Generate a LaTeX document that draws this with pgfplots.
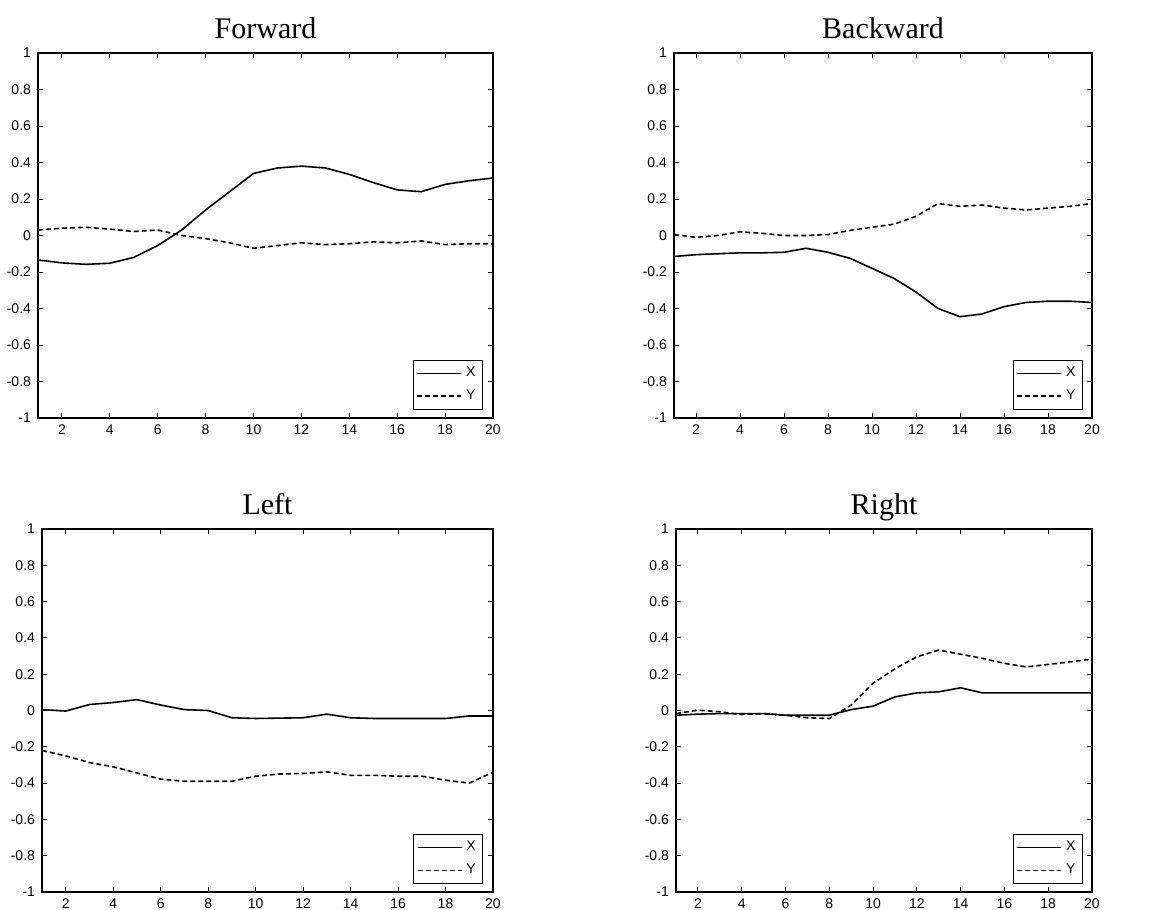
\documentclass[border=0pt]{standalone}
\usepackage{fontspec}
\setmainfont{Liberation Serif}
\newfontfamily\ticksf{Liberation Sans}
\usepackage{pgfplots}
\pgfplotsset{compat=1.18}

\pgfplotsset{
  panel/.style={
    scale only axis, xmin=1, xmax=20, ymin=-1, ymax=1,
    axis line style={black, line width=0.6pt},
    tick align=inside, major tick length=2.5pt,
    tick style={black, line width=0.5pt},
    xtick={2,4,6,8,10,12,14,16,18,20},
    xticklabels={2,4,6,8,10,12,14,16,18,20},
    ytick={-1,-0.8,-0.6,-0.4,-0.2,0,0.2,0.4,0.6,0.8,1},
    yticklabels={-1,-0.8,-0.6,-0.4,-0.2,0,0.2,0.4,0.6,0.8,1},
    /pgf/number format/assume math mode=true,
    tick label style={font=\ticksf\fontsize{7}{8}\selectfont},
    every axis title shift=0pt,
    title style={font=\fontsize{15}{18}\selectfont, at={(0.5,1)}, anchor=base, yshift=7.5pt},
    legend style={at={(rel axis cs:0.978,0.022)}, anchor=south east,
      draw=black, font=\ticksf\fontsize{7}{8}\selectfont,
      inner sep=1.5pt, row sep=1pt},
    legend image code/.code={\draw[#1, line width=0.8pt] (0pt,0pt) -- (22pt,0pt);},
  },
  xline/.style={black, line width=0.8pt},
  yline/.style={black, line width=0.8pt, dash pattern=on 2.5pt off 1.5pt},
}

\begin{document}
\begin{tikzpicture}
\path[use as bounding box] (0,0) rectangle (582pt,-455pt);

% Forward
\begin{axis}[panel, at={(19pt,-209pt)}, anchor=south west,
  width=227.5pt, height=182.5pt, title={Forward}]
\addplot[xline] coordinates {
  (1,-0.134)(2,-0.150)(3,-0.158)(4,-0.152)(5,-0.120)(6,-0.055)(7,0.030)
  (8,0.140)(9,0.240)(10,0.340)(11,0.370)(12,0.380)(13,0.370)(14,0.335)
  (15,0.290)(16,0.250)(17,0.240)(18,0.280)(19,0.300)(20,0.315)};
\addplot[yline] coordinates {
  (1,0.030)(2,0.040)(3,0.045)(4,0.035)(5,0.022)(6,0.030)(7,0.000)
  (8,-0.017)(9,-0.040)(10,-0.070)(11,-0.055)(12,-0.040)(13,-0.050)(14,-0.045)
  (15,-0.035)(16,-0.040)(17,-0.030)(18,-0.050)(19,-0.045)(20,-0.045)};
\legend{X,Y}
\end{axis}

% Backward
\begin{axis}[panel, at={(337pt,-209pt)}, anchor=south west,
  width=209pt, height=182.5pt, title={Backward}]
\addplot[xline] coordinates {
  (1,-0.115)(2,-0.105)(3,-0.100)(4,-0.095)(5,-0.095)(6,-0.092)(7,-0.070)
  (8,-0.092)(9,-0.125)(10,-0.180)(11,-0.235)(12,-0.310)(13,-0.400)(14,-0.445)
  (15,-0.430)(16,-0.390)(17,-0.367)(18,-0.360)(19,-0.360)(20,-0.367)};
\addplot[yline] coordinates {
  (1,0.005)(2,-0.010)(3,0.000)(4,0.020)(5,0.012)(6,0.000)(7,0.000)
  (8,0.005)(9,0.028)(10,0.045)(11,0.062)(12,0.105)(13,0.175)(14,0.160)
  (15,0.167)(16,0.150)(17,0.140)(18,0.150)(19,0.160)(20,0.175)};
\legend{X,Y}
\end{axis}

% Left
\begin{axis}[panel, at={(21pt,-446pt)}, anchor=south west,
  width=225.5pt, height=181.5pt, title={Left}]
\addplot[xline] coordinates {
  (1,0.005)(2,-0.003)(3,0.033)(4,0.044)(5,0.060)(6,0.030)(7,0.005)
  (8,0.000)(9,-0.040)(10,-0.044)(11,-0.042)(12,-0.040)(13,-0.020)(14,-0.040)
  (15,-0.044)(16,-0.044)(17,-0.044)(18,-0.044)(19,-0.030)(20,-0.030)};
\addplot[yline] coordinates {
  (1,-0.220)(2,-0.250)(3,-0.287)(4,-0.310)(5,-0.344)(6,-0.378)(7,-0.390)
  (8,-0.390)(9,-0.390)(10,-0.362)(11,-0.350)(12,-0.347)(13,-0.338)(14,-0.357)
  (15,-0.357)(16,-0.362)(17,-0.362)(18,-0.384)(19,-0.400)(20,-0.340)};
\legend{X,Y}
\end{axis}

% Right
\begin{axis}[panel, at={(338pt,-446pt)}, anchor=south west,
  width=208pt, height=181.5pt, title={Right}]
\addplot[xline] coordinates {
  (1,-0.026)(2,-0.020)(3,-0.017)(4,-0.017)(5,-0.017)(6,-0.026)(7,-0.026)
  (8,-0.026)(9,0.005)(10,0.024)(11,0.075)(12,0.097)(13,0.103)(14,0.125)
  (15,0.097)(16,0.097)(17,0.097)(18,0.097)(19,0.097)(20,0.097)};
\addplot[yline] coordinates {
  (1,-0.017)(2,0.002)(3,-0.007)(4,-0.022)(5,-0.017)(6,-0.026)(7,-0.040)
  (8,-0.044)(9,0.030)(10,0.150)(11,0.230)(12,0.296)(13,0.333)(14,0.310)
  (15,0.287)(16,0.260)(17,0.240)(18,0.254)(19,0.268)(20,0.283)};
\legend{X,Y}
\end{axis}
\end{tikzpicture}
\end{document}
